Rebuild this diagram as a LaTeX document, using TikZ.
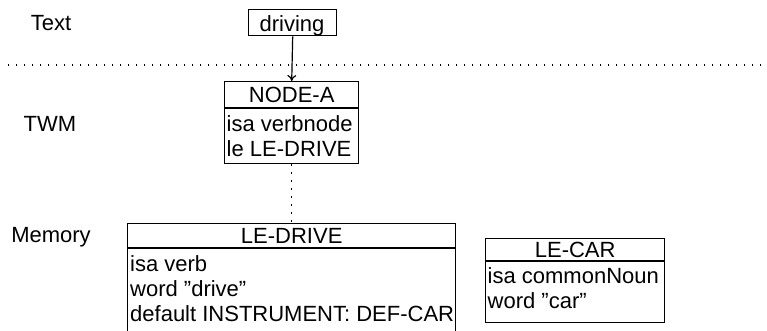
\documentclass[tikz,border=0pt]{standalone}
\usepackage{fontspec}
\setmainfont{Liberation Sans}
\usetikzlibrary{arrows.meta}
\begin{document}
\begin{tikzpicture}[x=1pt,y=-1pt,
  every node/.style={font=\fontsize{22}{26}\selectfont, inner sep=0pt},
  frame/.style={draw, line width=1.4pt, anchor=north west, inner sep=0pt},
  label/.style={anchor=base},
  row/.style={anchor=base west},
  rule/.style={line width=1.4pt},
  sep/.style={line width=1.1pt, dash pattern=on 1.1pt off 6.9pt},
  link/.style={line width=1.2pt, -{To[length=6pt,width=9pt]}}]
\useasboundingbox (0,0) rectangle (767,330);

% level labels
\node[label] (lText) at (51,30) {Text};
\node[label] (lTWM) at (50,131) {TWM};
\node[label] (lMem) at (51,242) {Memory};

% separator between text and working memory
\coordinate (sepL) at (8,65);
\coordinate (sepR) at (767,65);
\draw[sep] (sepL) -- (sepR);

% input word
\node[frame, minimum width=88pt, minimum height=26pt] (word) at (248,9) {};
\node[label] (wordtxt) at (292,31) {driving};

% working-memory node
\node[frame, minimum width=134pt, minimum height=82pt] (nodeA) at (224,81) {};
\draw[rule] ([yshift=-27pt]nodeA.north west) -- ([yshift=-27pt]nodeA.north east);
\node[label] (nodeAhead) at (nodeA.north |- 0,102) {NODE-A};
\node[row] (nodeAisa) at (226.5,131) {isa verbnode};
\node[row] (nodeAle) at (226.5,156) {le LE-DRIVE};

% lexical entry LE-DRIVE
\node[frame, minimum width=328pt, minimum height=115pt] (ledrive) at (127,223) {};
\draw[rule] ([yshift=-25pt]ledrive.north west) -- ([yshift=-25pt]ledrive.north east);
\node[label] (ledrivehead) at (ledrive.north |- 0,243) {LE-DRIVE};
\node[row] (ledriveisa) at (130,271) {isa verb};
\node[row] (ledriveword) at (130,296) {word ”drive”};
\node[row] (ledrivedef) at (130,321) {default INSTRUMENT: DEF-CAR};

% lexical entry LE-CAR
\node[frame, minimum width=179pt, minimum height=84pt] (lecar) at (485,238) {};
\draw[rule] ([yshift=-23pt]lecar.north west) -- ([yshift=-23pt]lecar.north east);
\node[label] (lecarhead) at (lecar.north |- 0,257) {LE-CAR};
\node[row] (lecarisa) at (487.5,283) {isa commonNoun};
\node[row] (lecarword) at (487.5,308.5) {word ”car”};

% connectors
\draw[link] (word.south) -- (nodeA.north);
\draw[sep] (nodeA.south) -- (ledrive.north);
\end{tikzpicture}
\end{document}
